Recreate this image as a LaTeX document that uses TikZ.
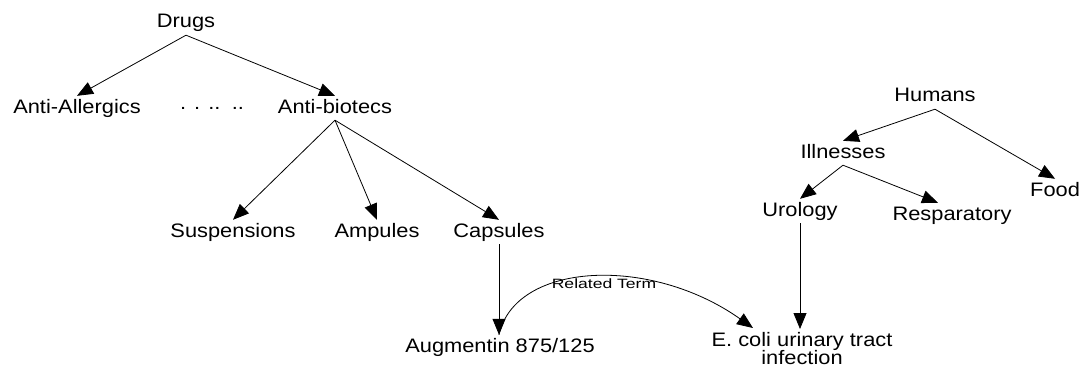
\documentclass[tikz,border=0pt]{standalone}
\usepackage{fontspec}
\setmainfont[FakeStretch=1.12]{Liberation Sans}
\newfontfamily\lblfont[FakeStretch=1.3]{Liberation Sans}
\usetikzlibrary{arrows.meta,calc}
\begin{document}
\begin{tikzpicture}[x=1pt,y=-1pt,
  term/.style={font=\fontsize{19.5}{17}\selectfont, inner sep=3pt, text height=14pt, text depth=4pt, anchor=base},
  multi/.style={font=\fontsize{19.5}{16}\selectfont, inner sep=1pt, align=center, anchor=north},
  lbl/.style={font=\lblfont\fontsize{13.5}{15}\selectfont, inner sep=1pt, anchor=base},
  link/.style={-{Triangle[length=16pt,width=13pt]}, line width=0.8pt},
]
\useasboundingbox (0,0) rectangle (1079,369);
% nodes
\node[term] (drugs) at (186,28) {Drugs};
\node[term] (aa) at (77,113) {Anti-Allergics};
\node[term] (dots) at (212,110) {. . .. \,..};
\node[term] (ab) at (335,113) {Anti-biotecs};
\node[term] (susp) at (233,237) {Suspensions};
\node[term] (amp) at (377,237) {Ampules};
\node[term] (caps) at (499,237) {Capsules};
\node[term] (aug) at (500,352) {Augmentin 875/125};
\node[multi] (ecoli) at (802,331) {E. coli urinary tract\\[-1pt]infection};
\node[term] (hum) at (935,102) {Humans};
\node[term] (ill) at (843,158) {Illnesses};
\node[term, anchor=base west] (food) at (1027,196) {Food};
\node[term] (uro) at (800,216) {Urology};
\node[term] (resp) at (952,220) {Resparatory};
\node[lbl] (rel) at (604,288) {Related Term};
% connectors
\draw[link] (drugs.south) -- (aa.north);
\draw[link] (drugs.south) -- (ab.north);
\draw[link] (ab.south) -- (susp.north);
\draw[link] (ab.south) -- (amp.north);
\draw[link] (ab.south) -- (caps.north);
\coordinate (rstart) at (caps.south |- aug.north);
\draw[link] (caps.south) -- (rstart);
\draw[link] (hum.south) -- (ill.north);
\draw[link] (hum.south) -- (food.north);
\draw[link] (ill.south) -- (uro.north);
\draw[link] (ill.south) -- ($(resp.north)+(-14,0)$);
\draw[link] (uro.south) -- ($(uro.south |- ecoli.north)+(0,-2)$);
\draw[link] (rstart) .. controls (515,262) and (650,255) .. ($(ecoli.north)+(-49,-3)$);
\end{tikzpicture}
\end{document}
